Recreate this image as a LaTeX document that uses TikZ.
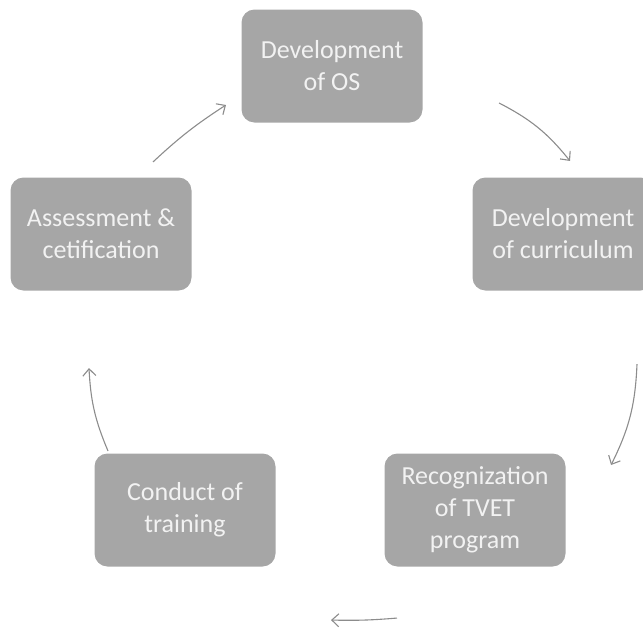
\documentclass[tikz,border=0pt]{standalone}
\usepackage{fontspec}
\setmainfont{Carlito}
\usetikzlibrary{arrows.meta,positioning}

\definecolor{boxgray}{HTML}{A6A6A6}
\definecolor{arrowgray}{HTML}{8C8C8C}

\begin{document}
\begin{tikzpicture}[-{Straight Barb[length=7pt,width=13pt]}, x=1pt, y=-1pt, on grid, line width=1.1pt, arrowgray,
  stage/.style = {fill=boxgray, rounded corners=13pt, minimum width=181pt, minimum height=113pt, align=center, text=white!95!black, font=\fontsize{26}{32}\selectfont}]
\useasboundingbox (0,0) rectangle (643,627);

\node[stage] (os) at (332,66) {Development\\of OS};
\node[stage, below right = 168pt and 231pt of os] (curr) {Development\\of curriculum};
\node[stage, below right = 444pt and 143pt of os] (recog) {Recognization\\of TVET\\program};
\node[stage, below left = 444pt and 147pt of os] (conduct) {Conduct of\\training};
\node[stage, below left = 168pt and 231pt of os] (assess) {Assessment \&\\cetification};

\path ([shift={(76,37)}]os.east) edge[bend left=12] ([shift={(7,-16)}]curr.north);
\path ([shift={(74,73)}]curr.south) edge[bend left=12] ([shift={(45,-45)}]recog.east);
\path ([shift={(-78,51)}]recog.south) edge[bend left=3] ([shift={(146,53)}]conduct.south);
\path ([shift={(-77,-2)}]conduct.north) edge[bend left=10] ([shift={(-12,77)}]assess.south);
\path ([shift={(52,-15)}]assess.north) edge[bend left=5] ([shift={(-15,39)}]os.west);
\end{tikzpicture}
\end{document}
